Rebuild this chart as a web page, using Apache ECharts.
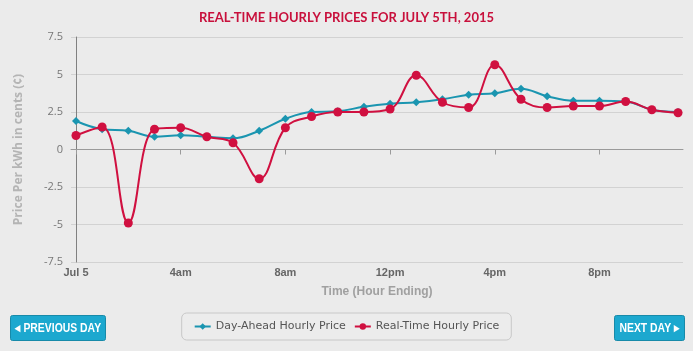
<!DOCTYPE html>
<html>
<head>
<meta charset="utf-8">
<script src="https://cdn.jsdelivr.net/npm/echarts@6/dist/echarts.min.js"></script>
<style>
html, body { margin: 0; padding: 0; background: #ebebeb; }
#chart { width: 693px; height: 351px; }
</style>
</head>
<body>
<div id="chart"></div>
<script>
// hour of day (0 = Jul 5 midnight)
const hours = [0, 1, 2, 3, 4, 5, 6, 7, 8, 9, 10, 11, 12, 13, 14, 15, 16, 17, 18, 19, 20, 21, 22, 23]
const dayAhead = [1.9, 1.35, 1.25, 0.85, 0.95, 0.85, 0.75, 1.25, 2.05, 2.5, 2.55, 2.85, 3.05, 3.15, 3.35, 3.65, 3.75, 4.05, 3.55, 3.25, 3.25, 3.2, 2.65, 2.5]
const realTime = [0.93, 1.5, -4.9, 1.35, 1.45, 0.85, 0.45, -1.95, 1.45, 2.2, 2.5, 2.5, 2.7, 4.95, 3.15, 2.8, 5.65, 3.35, 2.8, 2.9, 2.9, 3.2, 2.65, 2.45]
const tickHours = [0, 4, 8, 12, 16, 20]
const tickLabels = ['Jul 5', '4am', '8am', '12pm', '4pm', '8pm']

const narrow = '"Liberation Sans", sans-serif'
const chart = echarts.init(document.getElementById('chart'))

// button = rect + horizontally squeezed text (fake condensed face)
function button(left, width, label) {
    return {
        type: 'group',
        left: left,
        top: 315,
        children: [{
            type: 'rect',
            shape: { width: width, height: 25, r: 2 },
            style: { fill: '#1ca8cf', stroke: '#178aa9' }
        }, {
            type: 'text',
            x: width / 2,
            y: 13,
            scaleX: 0.8,
            style: { text: label, fill: '#fff', font: 'bold 13px ' + narrow, align: 'center', verticalAlign: 'middle' }
        }]
    }
}

const option = {
    backgroundColor: '#ebebeb',
    animation: false,
    title: {
        text: 'REAL-TIME HOURLY PRICES FOR JULY 5TH, 2015',
        left: 'center',
        top: 6,
        textStyle: { color: '#c8103c', fontSize: 13, fontWeight: 'bold', fontFamily: 'Lato' }
    },
    grid: { left: 71, right: 10, top: 37, bottom: 89 },
    legend: {
        bottom: 11,
        left: 'center',
        padding: [8, 12],
        backgroundColor: '#ececec',
        borderColor: '#c8c8c8',
        borderWidth: 1,
        borderRadius: 5,
        itemWidth: 16,
        itemHeight: 8,
        itemGap: 8,
        textStyle: { color: '#555', fontSize: 11, fontFamily: 'DejaVu Sans' },
        data: ['Day-Ahead Hourly Price', 'Real-Time Hourly Price']
    },
    xAxis: {
        type: 'value',
        min: -0.19,
        max: 23.19,
        name: 'Time (Hour Ending)',
        nameLocation: 'middle',
        nameGap: 24,
        nameTextStyle: { color: '#a0a0a0', fontSize: 12, fontWeight: 'bold', fontFamily: narrow },
        axisLine: { lineStyle: { color: '#9a9a9a' } },
        axisTick: { customValues: tickHours, length: 5, lineStyle: { color: '#9a9a9a' } },
        axisLabel: {
            customValues: tickHours,
            formatter: v => tickLabels[tickHours.indexOf(v)],
            color: '#666',
            fontSize: 11,
            fontWeight: 'bold',
            fontFamily: narrow,
            margin: 5
        },
        splitLine: { show: false }
    },
    yAxis: {
        type: 'value',
        min: -7.5,
        max: 7.5,
        interval: 2.5,
        name: 'Price Per kWh in cents (¢)',
        nameLocation: 'middle',
        nameGap: 46,
        nameTextStyle: { color: '#b4b4b4', fontSize: 12, fontWeight: 'bold', fontFamily: 'Open Sans' },
        axisLine: { show: true, lineStyle: { color: '#808080' } },
        axisTick: { show: false },
        axisLabel: { color: '#777', fontSize: 11, fontFamily: 'Open Sans', margin: 8 },
        splitLine: { lineStyle: { color: '#d2d2d2' } }
    },
    series: [{
        name: 'Day-Ahead Hourly Price',
        type: 'line',
        data: hours.map((h, i) => [h, dayAhead[i]]),
        smooth: 0.4,
        symbol: 'diamond',
        symbolSize: 8,
        itemStyle: { color: '#1a95b0' },
        lineStyle: { color: '#1a95b0', width: 2 },
        z: 3
    }, {
        name: 'Real-Time Hourly Price',
        type: 'line',
        data: hours.map((h, i) => [h, realTime[i]]),
        smooth: 0.4,
        symbol: 'circle',
        symbolSize: 9,
        itemStyle: { color: '#d01040' },
        lineStyle: { color: '#d01040', width: 2 },
        z: 4
    }],
    graphic: [
        button(10, 95, '◂ PREVIOUS DAY'),
        button(614, 70, 'NEXT DAY ▸')
    ]
}

chart.setOption(option)

window.addEventListener('resize', function () {
    chart.resize()
})
</script>
</body>
</html>
